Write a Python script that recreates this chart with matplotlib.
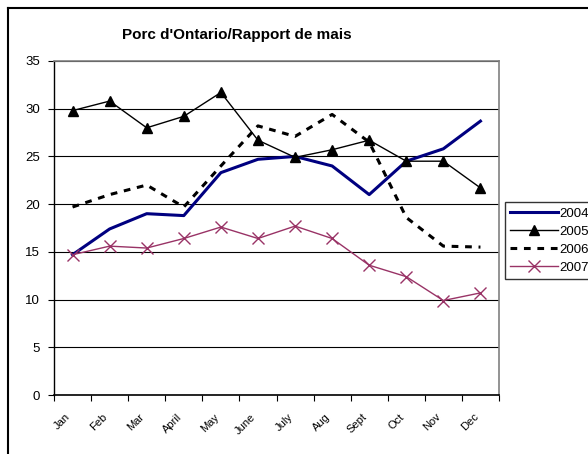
import matplotlib.pyplot as plt
from matplotlib.lines import Line2D

months = ["Jan", "Feb", "Mar", "April", "May", "June",
          "July", "Aug", "Sept", "Oct", "Nov", "Dec"]
y2004 = [14.7, 17.4, 19.0, 18.8, 23.3, 24.7, 25.0, 24.0, 21.0, 24.5, 25.8, 28.7]
y2005 = [29.8, 30.8, 28.0, 29.2, 31.7, 26.7, 24.9, 25.7, 26.7, 24.5, 24.5, 21.7]
y2006 = [19.7, 21.0, 22.0, 19.7, 24.0, 28.2, 27.1, 29.4, 26.5, 18.6, 15.6, 15.5]
y2007 = [14.7, 15.6, 15.4, 16.4, 17.6, 16.4, 17.7, 16.4, 13.6, 12.4, 9.9, 10.7]

plt.rcParams["font.family"] = ["Liberation Sans", "DejaVu Sans"]

fig = plt.figure(figsize=(5.88, 4.54), dpi=100)
ax = fig.add_axes([54 / 588, 1 - 395 / 454, 445 / 588, 334 / 454])

x = range(len(months))
ax.plot(x, y2004, color="#000080", lw=2.2, label="2004")
ax.plot(x, y2005, color="black", lw=1, marker="^", ms=7, label="2005")
ax.plot(x, y2006, color="black", lw=2.2, ls=(0, (2.2, 2.2)), label="2006")
ax.plot(x, y2007, color="#993366", lw=1, marker="x", ms=8, mew=1, label="2007")

ax.set_xlim(-0.5, 11.5)
ax.set_ylim(0, 35)
ax.set_yticks(range(0, 36, 5))
ax.set_xticks([i - 0.5 for i in range(13)], minor=False)
ax.set_xticklabels([])
ax.set_xticks([i - 0.2 for i in x], minor=True)
ax.set_xticklabels(months, minor=True, rotation=45, fontsize=8,
                   ha="right", va="top", rotation_mode="anchor")
ax.tick_params(axis="x", which="minor", length=0, pad=12)
ax.tick_params(axis="x", which="major", length=4, direction="out")
ax.tick_params(axis="y", length=4, direction="out", labelsize=9.5, pad=6)

ax.grid(True, axis="y", color="black", lw=0.8)
ax.set_axisbelow(True)
for side in ["top", "right"]:
    ax.spines[side].set_color("#808080")
    ax.spines[side].set_linewidth(1.2)
ax.spines["left"].set_linewidth(1)
ax.spines["bottom"].set_linewidth(1.2)

fig.text(237 / 588, 1 - 35 / 454, "Porc d'Ontario/Rapport de mais",
         ha="center", va="center", fontsize=11, fontweight="bold")

handles = ax.get_legend_handles_labels()
leg = fig.legend(*handles, loc="upper left",
                 bbox_to_anchor=(505 / 588, 1 - 202 / 454),
                 frameon=True, fancybox=False, fontsize=9.5,
                 handlelength=3.6, handletextpad=0.1, borderpad=0.4,
                 labelspacing=0.45, borderaxespad=0)
leg.get_frame().set_edgecolor("black")
leg.get_frame().set_linewidth(1)

# outer chart border
fig.add_artist(Line2D([8 / 588, 8 / 588], [0, 1 - 8 / 454],
                      transform=fig.transFigure, color="black", lw=1.5))
fig.add_artist(Line2D([8 / 588, 1], [1 - 8 / 454, 1 - 8 / 454],
                      transform=fig.transFigure, color="black", lw=1.5))

fig.savefig("out.png", dpi=100)
